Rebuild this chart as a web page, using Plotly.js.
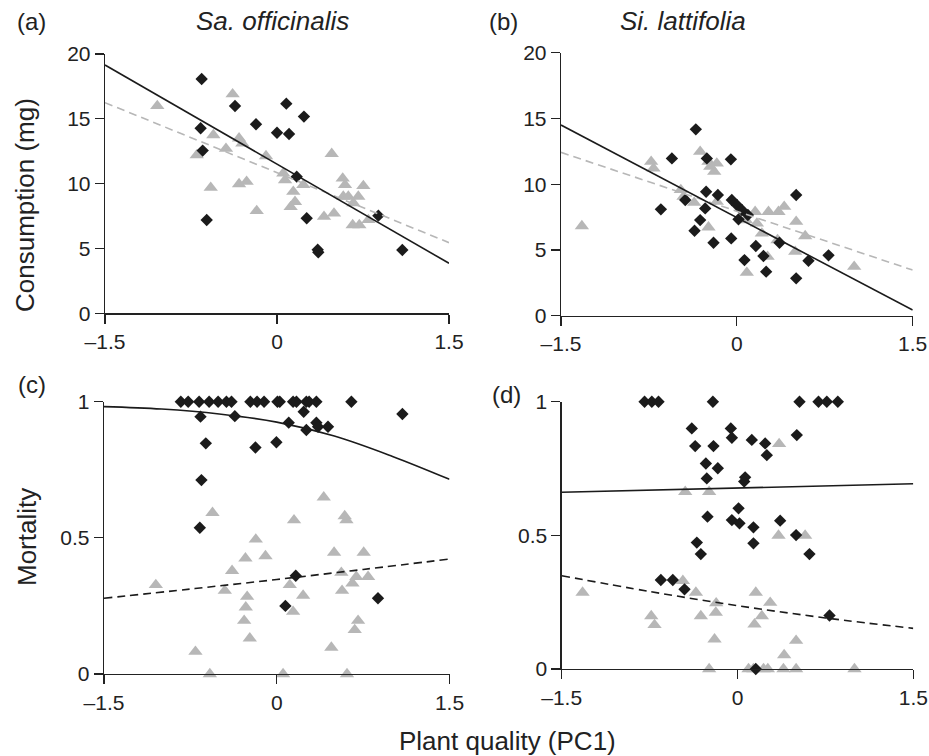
<!DOCTYPE html>
<html>
<head>
<meta charset="utf-8">
<script src="https://cdn.plot.ly/plotly-3.0.1.min.js"></script>
<style>html,body{margin:0;padding:0;background:#fff;}#chart{width:929px;height:756px;}</style>
</head>
<body>
<div id="chart"></div>
<script>
// ---------- data ----------
var xTicks = [-1.5, 0, 1.5];
var consTicks = [0, 5, 10, 15, 20];
var mortTicks = [0, 0.5, 1];

// (a) Sa. officinalis – consumption
var aDiaX = [-0.657,-0.666,-0.648,-0.613,-0.366,-0.183,0.0,0.081,0.105,0.235,0.172,0.259,0.355,0.36,0.884,1.093];
var aDiaY = [18.07,14.27,12.55,7.2,15.99,14.58,13.93,16.17,13.83,15.17,10.54,7.33,4.9,4.7,7.53,4.88];
var aTriX = [-1.044,-0.387,-0.70,-0.555,-0.578,-0.445,-0.331,-0.302,-0.331,-0.265,-0.177,-0.096,0.055,0.07,0.142,0.157,0.119,0.23,0.41,0.497,0.477,0.573,0.593,0.578,0.622,0.666,0.709,0.753,0.66,0.718,0.797];
var aTriY = [15.99,16.9,12.2,13.75,9.69,12.7,13.5,13.1,9.97,10.15,7.9,12.13,10.8,10.28,9.38,8.6,8.2,9.9,7.45,7.7,12.3,10.4,9.9,9.0,9.0,8.5,9.0,9.82,6.81,6.81,7.2];
var aSolidX = [-1.5, 1.5], aSolidY = [19.15, 3.86];
var aDashX = [-1.5, 1.5], aDashY = [16.25, 5.45];

// (b) Si. lattifolia – consumption
var bDiaX = [-0.35,-0.554,-0.256,-0.051,-0.648,-0.44,-0.262,-0.162,-0.27,-0.313,-0.361,-0.199,-0.048,-0.043,0.0,0.043,0.014,0.094,0.065,0.162,0.227,0.25,0.364,0.506,0.506,0.611,0.782];
var bDiaY = [14.17,11.96,11.96,11.89,8.09,8.8,9.43,9.18,8.16,7.27,6.46,5.55,5.88,8.8,8.42,8.04,7.33,7.66,4.23,5.3,4.54,3.35,5.55,9.18,2.84,4.18,4.59];
var bTriX = [-1.322,-0.731,-0.711,-0.478,-0.455,-0.364,-0.313,-0.242,-0.227,-0.193,-0.171,-0.242,-0.171,0.077,0.085,0.156,0.171,0.213,0.262,0.27,0.355,0.404,0.347,0.506,0.498,0.583,1.001];
var bTriY = [6.82,11.71,11.2,9.56,9.05,8.59,12.47,11.71,11.33,10.95,11.58,6.72,8.67,7.27,3.27,7.9,7.02,6.26,4.49,7.9,7.9,8.29,5.75,7.15,4.87,6.06,3.73];
var bSolidX = [-1.5, 1.5], bSolidY = [14.5, 0.43];
var bDashX = [-1.5, 1.5], bDashY = [12.42, 3.47];

// (c) Sa. officinalis – mortality
var cDiaX = [-0.833,-0.769,-0.674,-0.587,-0.509,-0.437,-0.393,-0.229,-0.171,-0.11,0.006,0.026,0.142,0.171,0.257,0.281,0.344,0.648,
             -0.662,-0.364,-0.616,-0.185,-0.003,0.104,0.234,0.257,0.344,0.359,0.445,1.091,-0.654,-0.668,0.165,0.075,0.879];
var cDiaY = [1,1,1,1,1,1,1,1,1,1,1,1,1,1,1,1,1,1,
             0.945,0.947,0.847,0.832,0.851,0.923,0.963,0.896,0.923,0.908,0.908,0.955,0.712,0.537,0.361,0.25,0.278];
var cTriX = [-1.05,-0.706,-0.581,-0.558,-0.451,-0.388,-0.272,-0.257,-0.269,-0.283,-0.234,-0.182,-0.098,0.055,0.113,0.142,0.150,0.229,0.408,0.474,0.498,0.561,0.567,0.590,0.605,0.610,0.657,0.691,0.706,0.677,0.755,0.793];
var cTriY = [0.327,0.082,0,0.592,0.306,0.379,0.425,0.284,0.245,0.196,0.131,0.494,0.433,0,0.327,0.229,0.565,0.288,0.649,0.097,0.446,0.372,0.306,0.580,0.565,0,0.333,0.357,0.196,0.162,0.446,0.357];
var cSolidX = [-1.5,-1,-0.5,0,0.5,1,1.5], cSolidY = [0.982,0.973,0.955,0.925,0.874,0.80,0.715];
var cDashX = [-1.5,-0.75,0,0.75,1.5], cDashY = [0.278,0.312,0.347,0.384,0.422];

// (d) Si. lattifolia – mortality
var dDiaX = [-0.793,-0.731,-0.674,-0.210,0.529,0.691,0.762,0.856,
             -0.390,-0.361,-0.205,-0.057,-0.048,0.122,0.236,0.25,0.506,-0.27,-0.168,-0.262,0.065,0.057,0.009,-0.256,-0.048,0.017,0.136,0.364,0.136,0.5,-0.347,-0.313,0.614,-0.654,-0.552,-0.452,0.785,0.156];
var dDiaY = [1,1,1,1,1,1,1,1,
             0.9,0.834,0.834,0.9,0.865,0.857,0.844,0.8,0.875,0.769,0.751,0.713,0.717,0.701,0.601,0.570,0.557,0.545,0.530,0.555,0.470,0.501,0.473,0.430,0.430,0.333,0.333,0.298,0.2,0];
var dTriX = [-1.322,-0.736,-0.708,-0.446,-0.466,-0.355,-0.313,-0.242,-0.242,-0.182,-0.185,-0.196,0.094,0.136,0.156,0.145,0.208,0.222,0.259,0.279,0.355,0.350,0.398,0.392,0.5,0.5,0.577,0.998];
var dTriY = [0.286,0.198,0.165,0.663,0.330,0.286,0.198,0.663,0,0.246,0.211,0.111,0,0,0.286,0.167,0.198,0,0,0.248,0.842,0.499,0.052,0,0.106,0,0.499,0];
var dSolidX = [-1.5, 1.5], dSolidY = [0.661, 0.693];
var dDashX = [-1.5,-0.75,0,0.75,1.5], dDashY = [0.349,0.290,0.237,0.191,0.152];

// ---------- styles ----------
var BLACK = '#1b1b1b', GREY = '#b7b7b7';
var FONT = 'Liberation Sans, Arial, Helvetica, sans-serif';

function tri(x, y, ax){ return {x:x, y:y, xaxis:'x'+ax, yaxis:'y'+ax, type:'scatter', mode:'markers', cliponaxis:false,
  marker:{symbol:'triangle-up', size:12.5, color:GREY, line:{width:0}}, hoverinfo:'skip'}; }
function dia(x, y, ax){ return {x:x, y:y, xaxis:'x'+ax, yaxis:'y'+ax, type:'scatter', mode:'markers', cliponaxis:false,
  marker:{symbol:'diamond', size:9.5, color:BLACK, line:{width:0}}, hoverinfo:'skip'}; }
function ln(x, y, ax, color, dash){ return {x:x, y:y, xaxis:'x'+ax, yaxis:'y'+ax, type:'scatter', mode:'lines', cliponaxis:false,
  line:{color:color, width:1.6, dash:dash, shape:'spline'}, hoverinfo:'skip'}; }

var data = [
  tri(aTriX, aTriY, ''), dia(aDiaX, aDiaY, ''), ln(aDashX, aDashY, '', GREY, '8px,5px'), ln(aSolidX, aSolidY, '', BLACK, 'solid'),
  tri(bTriX, bTriY, '2'), dia(bDiaX, bDiaY, '2'), ln(bDashX, bDashY, '2', GREY, '8px,5px'), ln(bSolidX, bSolidY, '2', BLACK, 'solid'),
  tri(cTriX, cTriY, '3'), dia(cDiaX, cDiaY, '3'), ln(cDashX, cDashY, '3', BLACK, '8px,5px'), ln(cSolidX, cSolidY, '3', BLACK, 'solid'),
  tri(dTriX, dTriY, '4'), dia(dDiaX, dDiaY, '4'), ln(dDashX, dDashY, '4', BLACK, '8px,5px'), ln(dSolidX, dSolidY, '4', BLACK, 'solid')
];

var W = 929, H = 756;
function dx(a, b){ return [a / W, b / W]; }
function dy(top, bottom){ return [1 - bottom / H, 1 - top / H]; }

function xax(dom, anchor){ return {domain:dom, anchor:anchor, range:[-1.5,1.5], tickvals:xTicks, ticktext:xTicks.map(function(v){return v===0?'0':(v<0?'\u20131.5':'1.5');}),
  showline:true, linecolor:'#222', linewidth:1.3, ticks:'outside', ticklen:9, tickwidth:1.3, tickcolor:'#222',
  showgrid:false, zeroline:false, tickfont:{family:FONT, size:21, color:'#222'}, fixedrange:true}; }
function yax(dom, anchor, rng, tv){ return {domain:dom, anchor:anchor, range:rng, tickvals:tv,
  showline:true, linecolor:'#222', linewidth:1.3, ticks:'outside', ticklen:9, tickwidth:1.3, tickcolor:'#222',
  showgrid:false, zeroline:false, tickfont:{family:FONT, size:21, color:'#222'}, fixedrange:true}; }

function ann(text, xpx, ypx, size, extra){
  var a = {text:text, x:xpx / W, y:1 - ypx / H, xref:'paper', yref:'paper', showarrow:false,
    xanchor:'center', yanchor:'middle', font:{family:FONT, size:size, color:'#222'}};
  for (var k in extra) a[k] = extra[k];
  return a;
}

var layout = {
  width:W, height:H, margin:{l:0, r:0, t:0, b:0}, showlegend:false,
  paper_bgcolor:'#fff', plot_bgcolor:'#fff',
  xaxis: xax(dx(105, 449), 'y'),
  yaxis: yax(dy(54, 313.3), 'x', [0, 20], consTicks),
  xaxis2: xax(dx(561, 912.7), 'y2'),
  yaxis2: yax(dy(52.7, 315.7), 'x2', [0, 20], consTicks),
  xaxis3: xax(dx(104, 449.5), 'y3'),
  yaxis3: yax(dy(401.7, 674), 'x3', [0, 1], mortTicks),
  xaxis4: xax(dx(561.7, 913.3), 'y4'),
  yaxis4: yax(dy(401.7, 669), 'x4', [0, 1], mortTicks),
  annotations: [
    ann('(a)', 32, 21, 24),
    ann('(b)', 503, 21, 24),
    ann('(c)', 32, 384, 24),
    ann('(d)', 506, 395, 24),
    ann('<i>Sa. officinalis</i>', 272, 21, 26),
    ann('<i>Si. lattifolia</i>', 683, 21, 26),
    ann('Consumption (mg)', 25, 205, 26, {textangle:-90}),
    ann('Mortality', 27, 537, 26, {textangle:-90}),
    ann('Plant quality (PC1)', 507, 741, 26)
  ]
};

Plotly.newPlot('chart', data, layout, {staticPlot:true, displayModeBar:false});
</script>
</body>
</html>
